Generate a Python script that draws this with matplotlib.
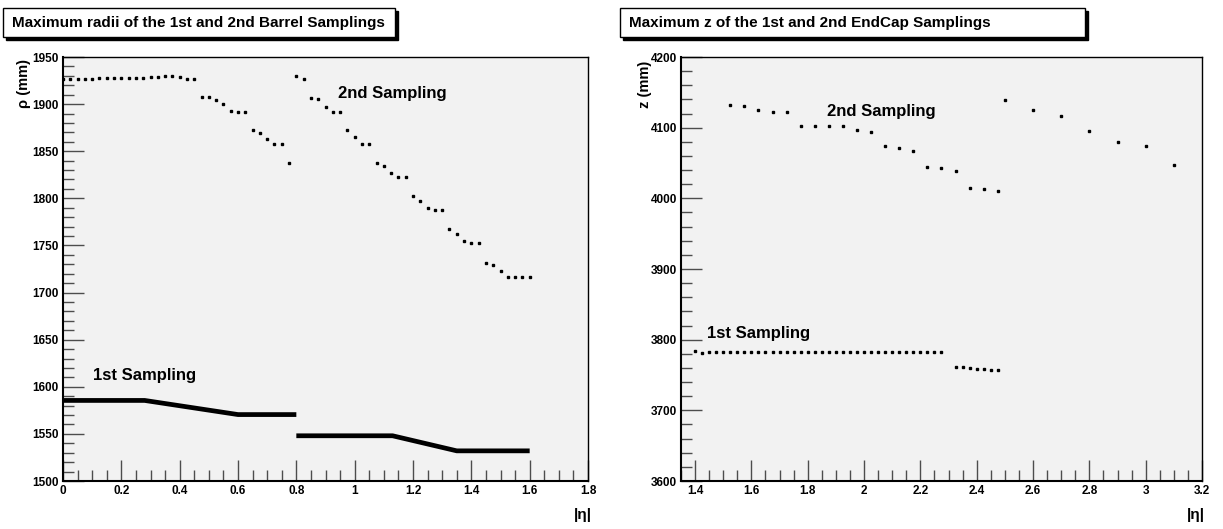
import matplotlib.pyplot as plt
from matplotlib.patches import Rectangle
from matplotlib.ticker import MultipleLocator

# ---- Barrel (left panel) ----
barrel_eta = [0.000, 0.025, 0.050, 0.075, 0.100, 0.125, 0.150, 0.175, 0.200, 0.225,
              0.250, 0.275, 0.300, 0.325, 0.350, 0.375, 0.400, 0.425, 0.450, 0.475,
              0.500, 0.525, 0.550, 0.575, 0.600, 0.625, 0.650, 0.675, 0.700, 0.725,
              0.750, 0.775, 0.800, 0.825, 0.850, 0.875, 0.900, 0.925, 0.950, 0.975,
              1.000, 1.025, 1.050, 1.075, 1.100, 1.125, 1.150, 1.175, 1.200, 1.225,
              1.250, 1.275, 1.300, 1.325, 1.350, 1.375, 1.400, 1.425, 1.450, 1.475,
              1.500, 1.525, 1.550, 1.575, 1.600]
barrel_rho2 = [1927.0, 1927.0, 1927.0, 1927.0, 1927.0, 1927.3, 1927.3, 1927.7, 1927.7, 1927.7,
               1928.1, 1928.1, 1928.4, 1928.8, 1929.5, 1930.2, 1928.8, 1926.3, 1926.3, 1907.6,
               1907.6, 1904.8, 1900.1, 1892.7, 1892.0, 1892.0, 1872.2, 1869.4, 1863.0, 1857.7,
               1857.7, 1837.5, 1929.9, 1926.3, 1906.9, 1905.1, 1897.0, 1892.0, 1892.0, 1872.2,
               1865.1, 1857.7, 1857.7, 1837.5, 1834.0, 1826.9, 1822.7, 1822.7, 1802.5, 1796.9,
               1790.1, 1788.0, 1788.0, 1767.5, 1762.2, 1755.1, 1752.6, 1752.6, 1731.4, 1729.6,
               1723.3, 1716.9, 1716.9, 1716.9, 1716.9]

# 1st sampling: two continuous pieces
barrel1_eta_a = [0.0, 0.28, 0.60, 0.80]
barrel1_rho_a = [1585.5, 1585.5, 1570.5, 1570.5]
barrel1_eta_b = [0.80, 1.13, 1.35, 1.60]
barrel1_rho_b = [1548.0, 1548.0, 1532.0, 1532.0]

# ---- EndCap (right panel) ----
ec2_eta = [1.525, 1.575, 1.625, 1.675, 1.725, 1.775, 1.825, 1.875, 1.925, 1.975,
           2.025, 2.075, 2.125, 2.175, 2.225, 2.275, 2.325, 2.375, 2.425, 2.475,
           2.5, 2.6, 2.7, 2.8, 2.9, 3.0, 3.1]
ec2_z = [4131.5, 4130.1, 4124.4, 4122.2, 4122.2, 4102.8, 4102.8, 4101.8, 4101.8, 4096.1,
         4094.3, 4073.5, 4070.7, 4066.4, 4043.8, 4042.9, 4038.7, 4015.3, 4012.7, 4010.8,
         4138.6, 4124.4, 4117.0, 4095.3, 4079.2, 4074.5, 4046.6]

ec1_eta = [1.400, 1.425, 1.450, 1.475, 1.500, 1.525, 1.550, 1.575, 1.600, 1.625,
           1.650, 1.675, 1.700, 1.725, 1.750, 1.775, 1.800, 1.825, 1.850, 1.875,
           1.900, 1.925, 1.950, 1.975, 2.000, 2.025, 2.050, 2.075, 2.100, 2.125,
           2.150, 2.175, 2.200, 2.225, 2.250, 2.275,
           2.325, 2.350, 2.375, 2.400, 2.425, 2.450, 2.475]
ec1_z = [3784.5, 3781.5, 3782.0, 3782.0, 3782.0, 3782.0, 3782.0, 3782.0, 3782.0, 3782.0,
         3782.0, 3782.0, 3782.5, 3782.5, 3782.5, 3782.5, 3782.5, 3782.5, 3782.5, 3782.5,
         3782.5, 3782.5, 3782.5, 3782.5, 3783.0, 3783.0, 3783.0, 3783.0, 3783.0, 3783.0,
         3783.0, 3783.0, 3783.0, 3783.0, 3783.0, 3783.0,
         3761.4, 3760.9, 3760.0, 3759.0, 3758.0, 3757.1, 3757.1]

W, H = 1223, 529
fig = plt.figure(figsize=(W / 100, H / 100), dpi=100)
plt.rcParams['font.family'] = 'Liberation Sans'
plt.rcParams['font.weight'] = 'bold'

MS = 2.1

def px_rect(x0, y0, x1, y1):
    # image pixel box -> figure fraction [l, b, w, h]
    return [x0 / W, (H - y1) / H, (x1 - x0) / W, (y1 - y0) / H]

def style_axes(ax, xmaj, xmin, ymaj, ymin):
    ax.set_facecolor('#f2f2f2')
    ax.xaxis.set_major_locator(MultipleLocator(xmaj))
    ax.xaxis.set_minor_locator(MultipleLocator(xmin))
    ax.yaxis.set_major_locator(MultipleLocator(ymaj))
    ax.yaxis.set_minor_locator(MultipleLocator(ymin))
    ax.tick_params(which='major', direction='in', length=15, width=1, color='0.3',
                   labelsize=8.5, pad=3)
    ax.tick_params(which='minor', direction='in', length=8, width=1, color='0.3')
    for s in ax.spines.values():
        s.set_linewidth(1)
    ax.spines['left'].set_linewidth(1.5)
    ax.spines['bottom'].set_linewidth(1.5)
    for lab in ax.get_xticklabels() + ax.get_yticklabels():
        lab.set_fontweight('bold')

def title_box(x0, y0, x1, y1, text):
    fig.patches.append(Rectangle(((x0 + 3) / W, (H - y1 - 3) / H), (x1 - x0) / W,
                                 (y1 - y0) / H, transform=fig.transFigure,
                                 facecolor='black', edgecolor='black', zorder=1))
    fig.patches.append(Rectangle((x0 / W, (H - y1) / H), (x1 - x0) / W, (y1 - y0) / H,
                                 transform=fig.transFigure, facecolor='white',
                                 edgecolor='black', linewidth=1, zorder=2))
    fig.text((x0 + 9) / W, (H - (y0 + y1) / 2) / H, text, fontsize=11,
             fontweight='bold', ha='left', va='center', zorder=3)

# left panel
ax1 = fig.add_axes(px_rect(63, 57, 588, 481))
ax1.plot(barrel_eta, barrel_rho2, ls='none', marker='s', ms=MS, color='black')
ax1.plot(barrel1_eta_a, barrel1_rho_a, color='black', lw=3.4, solid_capstyle='butt')
ax1.plot(barrel1_eta_b, barrel1_rho_b, color='black', lw=3.4, solid_capstyle='butt')
ax1.set_xlim(0, 1.8)
ax1.set_ylim(1500, 1950)
style_axes(ax1, 0.2, 0.05, 50, 10)
ax1.set_xticks([0, 0.2, 0.4, 0.6, 0.8, 1.0, 1.2, 1.4, 1.6, 1.8],
               ['0', '0.2', '0.4', '0.6', '0.8', '1', '1.2', '1.4', '1.6', '1.8'])
ax1.text(0.942, 1906, '2nd Sampling', fontsize=12, fontweight='bold')
ax1.text(0.102, 1607, '1st Sampling', fontsize=12, fontweight='bold')
fig.text(24 / W, 1 - 84 / H, 'ρ (mm)', rotation=90, fontsize=10.5, fontweight='bold',
         ha='center', va='center')
fig.text(583 / W, 1 - 515 / H, '|η|', fontsize=11, fontweight='bold', ha='center', va='center')
title_box(3, 8, 395, 37, 'Maximum radii of the 1st and 2nd Barrel Samplings')

# right panel
ax2 = fig.add_axes(px_rect(681, 57, 1202, 481))
ax2.plot(ec2_eta, ec2_z, ls='none', marker='s', ms=MS, color='black')
ax2.plot(ec1_eta, ec1_z, ls='none', marker='s', ms=MS, color='black')
ax2.set_xlim(1.35, 3.2)
ax2.set_ylim(3600, 4200)
style_axes(ax2, 0.2, 0.05, 100, 20)
ax2.set_xticks([1.4, 1.6, 1.8, 2.0, 2.2, 2.4, 2.6, 2.8, 3.0, 3.2],
               ['1.4', '1.6', '1.8', '2', '2.2', '2.4', '2.6', '2.8', '3', '3.2'])
ax2.text(1.867, 4117, '2nd Sampling', fontsize=12, fontweight='bold')
ax2.text(1.442, 3803, '1st Sampling', fontsize=12, fontweight='bold')
fig.text(645 / W, 1 - 84 / H, 'z (mm)', rotation=90, fontsize=10.5, fontweight='bold',
         ha='center', va='center')
fig.text(1196 / W, 1 - 515 / H, '|η|', fontsize=11, fontweight='bold', ha='center', va='center')
title_box(620, 8, 1085, 37, 'Maximum z of the 1st and 2nd EndCap Samplings')

fig.savefig('out.png', dpi=100)
